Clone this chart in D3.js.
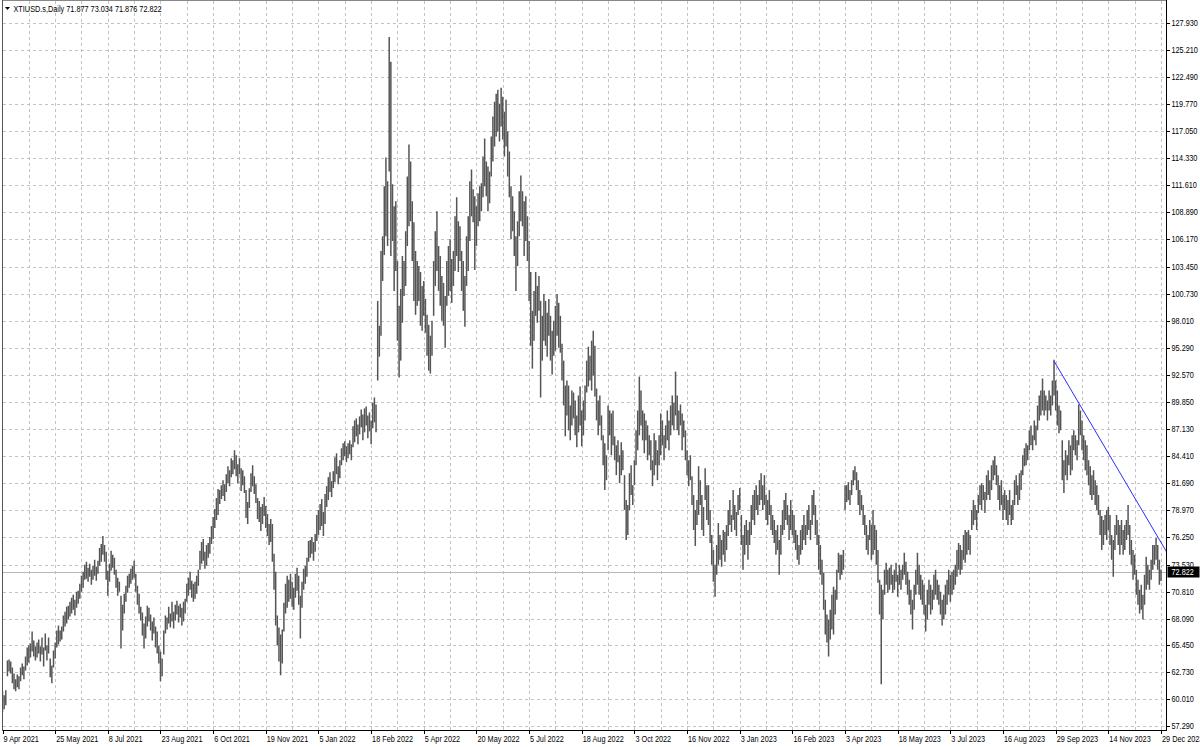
<!DOCTYPE html>
<html><head><meta charset="utf-8">
<script src="https://cdn.jsdelivr.net/npm/d3@7"></script>
<style>
body{margin:0;background:#fff}
svg{display:block}
text{font-family:"Liberation Sans",Arial,sans-serif;font-size:8.3px;fill:#000}
</style></head><body>
<svg id="chart" width="1200" height="747"></svg>
<script>
const symbolTitle = "XTIUSD.s,Daily";
const lastOHLC = [71.877, 73.034, 71.876, 72.822];
const currentPrice = 72.822;

const dateLabels = ["9 Apr 2021","25 May 2021","8 Jul 2021","23 Aug 2021","6 Oct 2021","19 Nov 2021","5 Jan 2022","18 Feb 2022","5 Apr 2022","20 May 2022","5 Jul 2022","18 Aug 2022","3 Oct 2022","16 Nov 2022","3 Jan 2023","16 Feb 2023","3 Apr 2023","18 May 2023","3 Jul 2023","16 Aug 2023","29 Sep 2023","14 Nov 2023","29 Dec 2023"];
const dateLabelBars = [0,32,64,96,128,160,192,224,256,288,320,352,384,416,448,480,512,544,576,608,640,672,704];

const priceTicks = [127.93,125.21,122.49,119.77,117.05,114.33,111.61,108.89,106.17,103.45,100.73,98.01,95.29,92.57,89.85,87.13,84.41,81.69,78.97,76.25,73.53,70.81,68.09,65.45,62.73,60.01,57.29];

const trendBars = [639, 704];
const trendPrices = [93.95, 75.75];

const lows = [
58.7,59.0,59.4,62.3,62.8,62.6,61.6,61.0,60.8,61.2,
61.0,61.8,62.4,62.0,62.9,63.4,63.7,64.2,64.8,64.3,
63.9,64.2,64.6,63.8,64.5,63.3,64.9,63.9,64.6,62.2,
61.6,63.2,64.1,65.2,65.5,65.8,66.0,66.8,67.3,67.6,
68.0,68.3,68.6,69.0,68.4,69.2,69.6,70.1,70.8,71.2,
72.0,72.1,71.8,72.3,71.5,72.0,72.4,71.9,72.6,73.4,
73.8,74.5,73.8,72.0,70.4,71.8,72.9,73.2,72.5,71.2,
70.4,70.8,65.1,66.9,68.6,69.8,70.7,71.2,71.6,72.0,
72.2,70.8,69.5,68.6,67.9,66.4,65.1,66.1,67.3,67.8,
66.9,65.9,66.6,65.2,64.6,63.6,61.8,62.3,64.5,66.6,
67.0,67.6,67.2,67.8,67.1,67.9,68.5,67.7,68.2,67.4,
67.8,68.6,69.8,70.4,71.0,70.2,69.8,70.1,70.6,71.4,
73.0,73.6,73.9,73.1,73.4,74.2,74.6,75.6,76.1,77.2,
78.0,78.5,79.6,80.1,80.4,79.9,80.8,81.7,81.4,82.3,
82.6,83.1,82.4,81.7,82.6,80.9,81.5,80.7,78.2,77.6,
79.2,80.8,81.4,80.6,79.7,78.1,77.8,76.9,77.6,78.4,
77.2,76.4,75.5,75.8,73.8,71.0,67.4,65.4,63.8,62.4,
63.6,66.8,68.6,69.2,69.8,70.1,69.3,69.0,70.2,70.9,
69.5,66.1,69.2,71.0,71.6,72.3,73.8,74.2,74.6,73.9,
74.8,75.9,76.5,77.0,77.4,76.4,77.6,79.3,80.0,80.8,
80.3,81.2,81.8,82.6,81.6,82.2,83.5,84.0,84.4,83.8,
84.2,84.6,84.0,85.3,85.8,86.4,85.6,86.6,87.3,86.0,
86.8,87.5,86.2,86.9,85.6,87.2,87.8,86.8,92.0,94.4,
96.5,102.0,104.6,106.5,105.5,113.0,104.5,106.0,101.0,103.0,
96.0,92.3,94.0,97.8,100.5,101.5,105.5,107.5,108.0,104.0,
100.0,98.6,99.5,100.0,97.5,97.0,98.5,96.8,94.5,93.0,
92.7,94.5,98.5,101.5,103.0,101.0,99.5,98.0,97.5,95.3,
99.5,100.5,101.0,99.8,101.5,103.0,104.5,102.9,104.0,101.0,
99.0,97.4,101.5,103.0,106.0,108.5,107.9,103.1,105.5,107.5,
108.0,109.0,110.4,111.5,110.5,109.0,109.8,112.5,114.0,115.5,
116.5,117.0,116.0,117.5,116.2,114.5,115.5,112.5,110.4,106.2,
107.0,104.5,101.0,103.5,106.5,108.0,107.5,104.5,106.0,104.0,
100.0,95.5,93.2,96.0,98.5,97.8,99.0,90.3,94.0,96.0,
95.5,94.4,96.5,94.0,92.6,94.5,95.0,96.5,95.3,94.8,
92.0,89.5,86.4,88.5,87.0,86.0,87.5,88.2,86.5,85.3,
86.8,87.5,85.4,86.5,88.0,90.8,91.4,92.0,91.0,92.5,
90.4,88.0,86.5,87.5,86.0,83.5,81.0,82.0,85.0,86.5,
84.5,85.5,84.0,82.5,83.8,81.7,82.5,83.0,79.0,76.0,
76.5,79.0,80.5,79.5,81.5,83.5,85.0,86.5,87.5,86.0,
84.7,86.0,84.0,84.5,83.0,81.4,82.5,83.5,82.0,83.5,
84.5,85.5,84.0,85.2,86.0,85.0,86.5,87.5,87.0,88.5,
87.0,86.5,87.5,85.0,86.3,84.0,82.5,81.4,82.0,79.5,
77.0,75.4,77.5,78.5,79.5,77.0,76.4,80.0,78.0,77.5,
75.7,73.5,71.8,70.3,72.5,73.5,74.0,73.3,74.5,73.8,
75.0,76.4,77.5,76.8,78.0,77.0,76.4,78.5,79.0,75.5,
73.0,74.5,75.5,74.0,75.5,76.5,78.0,77.5,79.0,78.5,
79.5,80.0,79.0,79.5,78.0,77.5,78.5,77.0,76.5,75.7,
74.5,75.0,72.5,74.5,76.5,77.0,78.0,77.5,76.0,77.0,
76.5,75.7,75.0,74.0,73.5,74.5,75.0,76.0,75.5,76.5,
77.0,76.0,77.5,78.5,76.5,75.5,73.0,72.5,71.5,69.0,
66.5,65.7,64.3,66.0,67.0,66.5,68.5,70.0,72.7,72.0,
72.5,73.0,79.0,79.8,80.0,79.5,80.5,81.5,82.0,81.0,
79.5,78.5,79.0,77.5,76.5,75.0,74.5,76.0,74.0,74.5,
75.0,73.5,71.7,68.5,61.5,68.0,70.5,71.5,70.7,71.0,
71.5,70.7,71.0,71.8,70.3,71.5,71.0,72.0,72.5,71.5,
70.5,69.5,68.5,67.0,69.0,70.5,71.5,70.5,70.0,69.5,
68.5,66.8,68.0,69.5,68.5,69.0,70.0,70.5,70.0,69.5,
68.5,67.4,68.0,68.5,69.5,70.5,69.8,70.5,71.0,71.5,
72.3,73.0,72.5,73.0,74.0,73.7,74.5,75.0,74.5,77.0,
77.5,78.0,77.0,78.7,79.5,79.0,80.0,78.7,80.0,80.5,
80.0,81.0,82.0,82.5,81.5,80.0,79.0,79.5,78.0,79.0,
78.0,77.5,78.5,77.5,78.0,79.5,80.5,79.5,80.0,81.0,
82.5,83.4,83.5,84.0,85.0,85.5,85.0,86.0,85.5,87.0,
88.0,88.5,89.0,88.5,89.0,88.0,89.0,88.5,89.5,90.5,
89.0,87.5,86.7,87.0,82.0,80.7,82.5,82.0,83.5,82.5,
83.0,85.0,84.5,84.0,85.5,86.5,85.0,84.0,83.0,82.5,
81.5,80.5,80.0,80.5,79.5,79.0,78.5,76.5,75.0,75.5,
76.5,76.0,77.0,75.5,74.0,72.3,75.0,76.5,75.5,74.5,
75.5,74.5,75.0,76.0,76.5,74.5,73.5,72.0,72.5,70.5,
69.5,68.6,69.0,68.0,69.5,71.0,71.5,71.0,72.0,73.0,
73.5,74.0,73.0,71.5,71.876
];

const highs = [
60.8,60.4,60.9,63.9,64.0,63.8,63.2,62.6,62.0,62.5,
62.3,63.2,63.6,63.3,64.3,65.2,65.4,65.6,66.8,65.9,
65.3,65.7,66.0,65.3,66.2,65.2,66.6,65.4,66.2,64.1,
63.4,64.9,65.7,66.9,67.4,66.9,67.3,68.4,68.8,69.3,
69.4,69.8,70.2,70.5,70.0,70.8,70.9,71.6,72.4,72.8,
73.5,73.8,73.2,73.6,73.0,73.4,74.0,73.3,73.9,75.2,
75.6,76.4,75.5,74.8,72.9,73.6,74.9,74.5,74.2,73.0,
72.2,71.8,70.4,69.5,70.6,71.4,72.4,72.6,73.1,73.4,
73.9,72.6,71.4,70.6,69.3,68.7,67.6,68.3,69.4,69.2,
68.5,67.8,68.2,67.3,66.8,65.4,64.8,64.1,66.9,68.4,
68.2,69.3,68.6,69.8,68.8,69.5,69.9,69.4,69.6,69.2,
69.8,70.1,71.6,72.2,72.8,71.9,71.6,71.8,72.4,73.0,
74.9,75.8,76.1,74.8,75.5,75.7,76.3,77.4,78.3,79.1,
80.2,81.1,81.0,81.5,82.0,81.6,82.6,83.4,83.0,84.2,
84.0,85.0,84.5,83.6,84.2,83.2,83.0,82.4,81.0,79.8,
81.2,82.7,83.5,82.4,81.6,80.2,79.9,79.3,79.6,80.3,
79.4,78.6,77.6,78.1,77.6,74.6,72.8,68.4,67.2,66.5,
67.0,69.7,71.6,72.4,72.0,72.6,71.8,71.2,72.6,73.2,
72.4,70.4,71.8,73.1,73.4,74.2,75.9,76.0,76.3,75.8,
76.6,78.5,79.0,79.6,80.1,78.8,80.6,81.4,82.3,82.8,
81.9,82.9,84.3,84.7,83.4,84.0,85.2,85.7,85.9,85.4,
85.7,86.0,85.6,87.4,88.0,88.2,87.6,88.4,89.1,88.6,
89.2,89.4,88.5,88.8,88.0,89.8,90.3,89.6,100.0,97.5,
105.0,106.5,111.5,114.4,112.0,126.5,124.0,111.7,109.5,110.0,
104.0,99.5,101.2,104.5,104.0,107.0,112.5,115.7,114.0,110.0,
107.9,105.0,104.0,103.5,102.9,101.5,102.0,100.2,98.6,97.6,
96.5,98.0,104.0,107.0,109.0,105.5,104.5,102.5,101.8,100.5,
104.0,105.5,106.2,104.2,105.0,108.5,110.4,108.0,107.5,105.0,
104.0,102.5,106.5,108.5,112.0,113.2,111.2,110.5,109.5,110.8,
111.5,111.8,114.5,116.3,114.0,113.5,113.0,116.5,118.5,120.0,
120.8,121.2,119.8,121.4,120.5,119.0,120.2,117.0,115.0,111.5,
110.5,109.0,106.5,108.0,111.0,112.6,111.0,110.0,110.5,108.5,
106.0,102.9,99.0,101.0,102.9,101.5,102.5,100.0,98.5,100.7,
100.0,98.8,100.2,98.5,97.0,98.0,99.5,100.7,99.8,98.5,
95.7,94.0,91.5,92.0,91.5,89.5,91.0,90.8,90.0,88.5,
90.5,91.4,89.0,90.0,91.5,94.0,95.4,94.5,96.0,97.0,
95.5,91.2,90.0,90.5,88.5,86.5,85.7,84.5,89.5,89.0,
88.7,89.0,86.4,85.5,86.0,84.5,85.8,85.0,82.5,80.0,
79.5,82.7,83.5,81.5,84.0,87.0,89.0,92.4,91.0,89.0,
88.7,88.0,87.5,86.5,86.0,84.0,86.7,86.0,85.0,86.5,
88.7,88.0,86.5,87.5,89.0,88.0,89.5,90.5,89.8,92.9,
90.5,89.0,89.6,88.7,88.0,87.0,85.0,84.0,84.5,82.4,
80.5,79.0,80.0,83.4,82.0,80.5,79.3,83.2,81.5,81.5,
79.0,76.5,75.0,73.5,75.5,77.7,76.5,76.0,77.0,76.8,
77.5,79.0,80.0,78.5,81.0,79.5,78.8,80.5,81.2,78.5,
76.5,77.5,78.0,77.0,77.8,79.5,80.5,81.0,81.5,80.5,
82.0,82.7,81.5,82.5,80.5,80.0,81.0,79.5,78.5,78.0,
77.0,77.5,76.0,77.5,79.0,80.0,80.7,79.5,78.5,80.0,
79.0,78.5,77.0,76.5,75.5,77.0,77.5,78.5,77.5,79.0,
79.5,78.0,80.5,81.0,79.5,78.0,76.5,75.5,74.0,72.7,
70.0,68.5,68.0,69.0,70.5,71.3,71.0,73.0,74.7,74.5,
74.5,75.0,81.5,81.5,81.8,81.0,82.0,83.0,83.4,82.8,
82.0,81.0,80.5,79.5,78.5,77.5,76.5,78.0,77.5,79.0,
77.5,77.0,75.0,72.0,71.5,71.0,73.0,73.7,73.0,73.2,
73.5,72.5,73.0,73.7,72.5,73.5,73.0,73.5,74.7,73.8,
72.8,72.0,71.0,70.0,71.5,73.0,74.7,73.5,72.5,72.0,
71.5,69.5,71.0,72.0,71.5,71.0,72.5,73.0,72.0,71.5,
70.8,70.0,70.5,71.5,72.0,73.0,72.5,72.8,73.0,73.5,
75.0,75.7,75.5,75.0,76.5,77.0,76.8,77.0,76.5,79.0,
80.0,79.5,79.0,80.5,81.5,81.7,81.5,80.8,82.5,83.0,
82.0,83.5,84.0,84.4,83.5,82.5,81.5,82.0,80.5,81.0,
80.5,80.0,81.0,79.5,80.0,82.0,82.5,81.5,82.7,83.0,
84.5,85.2,85.7,85.5,87.0,87.5,86.5,88.0,87.5,89.5,
90.5,91.0,92.2,91.0,90.5,90.0,91.0,90.5,92.0,94.1,
92.0,91.0,89.5,89.0,86.0,84.0,85.0,84.5,86.0,85.5,
86.5,87.0,86.5,86.0,89.6,89.0,88.0,86.5,86.0,85.5,
84.0,83.4,82.5,83.0,82.0,81.5,80.5,79.0,78.4,78.0,
78.5,79.0,79.3,78.5,76.5,76.0,77.5,78.5,78.0,77.5,
78.0,77.0,77.5,78.0,79.5,77.5,76.0,75.0,74.5,73.0,
72.0,71.0,71.5,70.5,72.5,74.3,73.5,73.0,74.0,75.5,
75.5,76.2,75.5,74.0,73.034
];

const svg = d3.select("#chart");
const L = 2.5, R = 1166.5, T = 0.5, B = 730.5;
const x = d3.scaleLinear().domain([0, 704]).range([2.5, 1161]);
const y = d3.scaleLinear().domain([68.09, 127.93]).range([618.7, 22.7]);
const px = v => Math.round(v) + 0.5;

svg.append("defs").append("clipPath").attr("id", "plot")
  .append("rect").attr("x", L).attr("y", T).attr("width", R - L).attr("height", B - T);

// grid
const grid = svg.append("g").attr("stroke", "#c3c3c3").attr("stroke-dasharray", "3,3").attr("shape-rendering", "crispEdges");
grid.selectAll("line.v").data(d3.range(16, 720, 16).filter(i => x(i) < R - 1)).join("line")
  .attr("class", "v").attr("x1", d => px(x(d))).attr("x2", d => px(x(d))).attr("y1", T).attr("y2", B);
grid.selectAll("line.h").data(priceTicks).join("line")
  .attr("class", "h").attr("x1", L).attr("x2", R).attr("y1", d => px(y(d))).attr("y2", d => px(y(d)));

// current price line
svg.append("line").attr("x1", L).attr("x2", R).attr("y1", px(y(currentPrice))).attr("y2", px(y(currentPrice)))
  .attr("stroke", "#b8b8b8").attr("shape-rendering", "crispEdges");

// bars
const plot = svg.append("g").attr("clip-path", "url(#plot)");
plot.append("g").attr("stroke", "#555").attr("stroke-width", 1.5)
  .selectAll("line").data(d3.range(lows.length)).join("line")
  .attr("x1", i => x(i)).attr("x2", i => x(i))
  .attr("y1", i => y(highs[i])).attr("y2", i => y(lows[i]));

// trend line
const slope = (trendPrices[1] - trendPrices[0]) / (trendBars[1] - trendBars[0]);
const endBar = x.invert(R);
plot.append("line")
  .attr("x1", x(trendBars[0])).attr("y1", y(trendPrices[0]))
  .attr("x2", x(endBar)).attr("y2", y(trendPrices[0] + slope * (endBar - trendBars[0])))
  .attr("stroke", "#2b2bff").attr("stroke-width", 1);

// frame
const frame = svg.append("g").attr("stroke", "#000").attr("shape-rendering", "crispEdges");
frame.append("line").attr("x1", L).attr("x2", L).attr("y1", 0).attr("y2", B).attr("stroke", "#555");
frame.append("line").attr("x1", L).attr("x2", R).attr("y1", T).attr("y2", T).attr("stroke", "#888");
frame.append("line").attr("x1", R).attr("x2", R).attr("y1", 0).attr("y2", B);
frame.append("line").attr("x1", L).attr("x2", R).attr("y1", B).attr("y2", B);

// right axis
const ra = svg.append("g");
ra.selectAll("line").data(priceTicks).join("line")
  .attr("x1", R).attr("x2", R + 3).attr("y1", d => px(y(d))).attr("y2", d => px(y(d)))
  .attr("stroke", "#000").attr("shape-rendering", "crispEdges");
ra.selectAll("text").data(priceTicks).join("text")
  .attr("x", R + 5).attr("y", d => y(d) + 3)
  .text(d => d.toFixed(3));

// current price box
svg.append("rect").attr("x", R + 1).attr("y", Math.round(y(currentPrice)) - 5.5).attr("width", 32).attr("height", 11).attr("fill", "#000");
svg.append("text").attr("x", R + 5).attr("y", y(currentPrice) + 3).style("fill", "#fff").text(currentPrice.toFixed(3));

// bottom axis
const ba = svg.append("g");
ba.selectAll("line").data(dateLabelBars).join("line")
  .attr("x1", i => px(x(i))).attr("x2", i => px(x(i))).attr("y1", B).attr("y2", B + 3)
  .attr("stroke", "#000").attr("shape-rendering", "crispEdges");
ba.selectAll("text").data(dateLabels).join("text")
  .attr("x", (d, k) => x(dateLabelBars[k]) + 1).attr("y", 741.5)
  .text(d => d);

// title
svg.append("path").attr("d", "M5,7 L10,7 L7.5,10 Z").attr("fill", "#000");
svg.append("text").attr("x", 13.5).attr("y", 11.5)
  .text(symbolTitle + "  " + lastOHLC.map(v => v.toFixed(3)).join(" "));

// condense text to match the narrow terminal font
svg.selectAll("text").each(function () {
  const w = this.getComputedTextLength();
  d3.select(this).attr("textLength", w * 0.88).attr("lengthAdjust", "spacingAndGlyphs");
});
</script>
</body></html>
